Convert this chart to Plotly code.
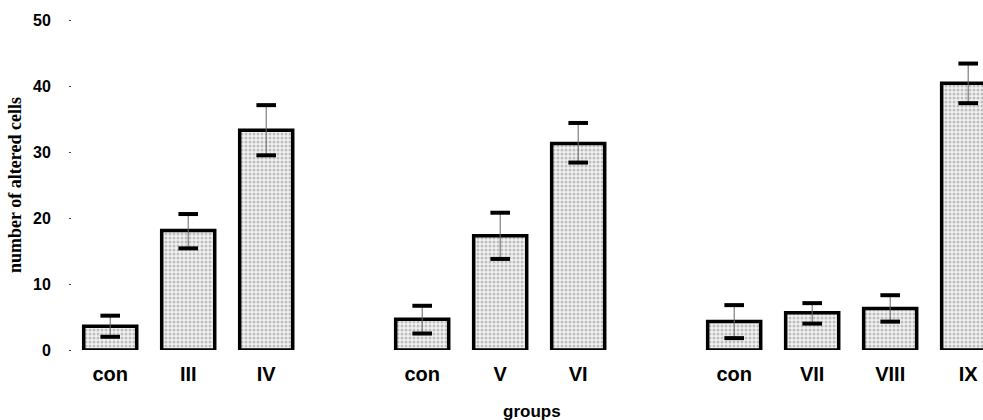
import plotly.graph_objects as go

categories = ["con", "III", "IV", "con", "V", "VI", "con", "VII", "VIII", "IX"]
slots = [0, 1, 2, 4, 5, 6, 8, 9, 10, 11]
means = [3.6, 18.1, 33.3, 4.65, 17.3, 31.3, 4.3, 5.65, 6.3, 40.4]
upper = [5.2, 20.6, 37.1, 6.7, 20.8, 34.4, 6.8, 7.1, 8.3, 43.4]
lower = [2.0, 15.4, 29.5, 2.5, 13.8, 28.4, 1.8, 4.0, 4.3, 37.4]
y_ticks = [0, 10, 20, 30, 40, 50]

err_plus = [u - m for u, m in zip(upper, means)]
err_minus = [m - l for m, l in zip(means, lower)]

fig = go.Figure()
fig.add_trace(go.Bar(
    x=slots, y=means, width=0.68,
    marker=dict(
        color="#e8e8e8",
        line=dict(color="black", width=3.5),
        pattern=dict(shape=".", fgcolor="#8a8a8a", bgcolor="#f2f2f2", size=4, solidity=0.45),
    ),
    error_y=dict(type="data", symmetric=False, array=err_plus, arrayminus=err_minus,
                 thickness=1, width=0, color="#666666"),
    showlegend=False,
))
fig.add_trace(go.Scatter(
    x=slots + slots, y=upper + lower, mode="markers",
    marker=dict(symbol="line-ew", size=14, line=dict(color="black", width=4)),
    showlegend=False, hoverinfo="skip",
))

sans = "Liberation Sans, Arial, sans-serif"
L, T, B, W, H = 72, 20, 70, 983, 420
fig.update_layout(
    width=W, height=H,
    margin=dict(l=L, r=0, t=T, b=B),
    plot_bgcolor="white", paper_bgcolor="white",
    font=dict(family=sans, color="black"),
    xaxis=dict(
        range=[-0.49, 11.19], tickmode="array", tickvals=slots, ticktext=categories,
        showgrid=False, zeroline=False, showline=False, ticks="",
        ticklabelstandoff=10,
        tickfont=dict(family=sans, size=20, weight="bold", color="black"),
    ),
    yaxis=dict(
        range=[0, 50], tickmode="array", tickvals=y_ticks,
        showgrid=False, zeroline=False, showline=False,
        ticks="outside", ticklen=2, tickwidth=1, tickcolor="#444444",
        ticklabelstandoff=15,
        tickfont=dict(family=sans, size=16, weight="bold", color="black"),
        title=dict(text="number of altered cells", standoff=6,
                   font=dict(family="Liberation Serif, Times New Roman, serif", size=18,
                             weight="bold", color="black")),
    ),
    annotations=[dict(
        text="groups", showarrow=False, xref="paper", yref="paper",
        x=(532 - L) / (W - L), y=-(411 - (H - B)) / (H - T - B),
        xanchor="center", yanchor="middle",
        font=dict(family=sans, size=17, weight="bold", color="black"),
    )],
)

fig.write_html("out.html", config={"displayModeBar": False},
               post_script="document.body.style.margin='0';document.body.style.overflow='hidden';")
